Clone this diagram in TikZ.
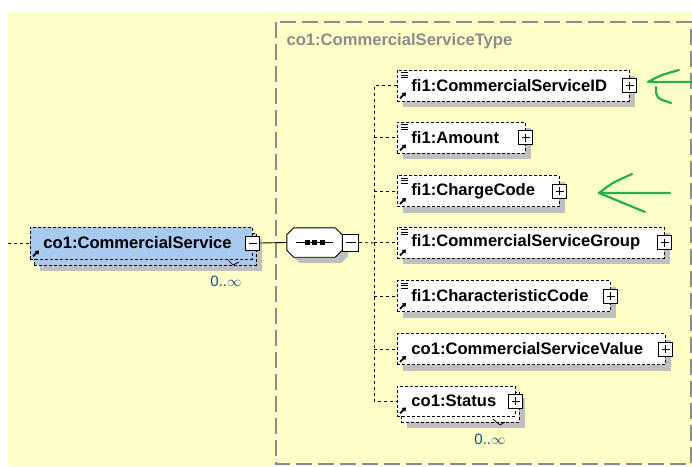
\documentclass[tikz,border=0pt]{standalone}
\usepackage{fontspec}
\setmainfont{Liberation Sans}
\usetikzlibrary{positioning,shadows,arrows.meta}

\definecolor{bgyellow}{RGB}{255,255,200}
\definecolor{elemblue}{RGB}{168,202,240}
\definecolor{shadowgrey}{RGB}{192,192,192}
\definecolor{typegrey}{RGB}{140,140,140}
\definecolor{occurblue}{RGB}{20,80,120}
\definecolor{markgreen}{RGB}{34,177,76}

\begin{document}
\begin{tikzpicture}[
    x=1pt, y=-1pt,
    font=\fontsize{16.6}{18}\selectfont,
    elem/.style={
        draw=black, line width=0.9pt, dash pattern=on 3pt off 2pt, fill=white,
        font=\fontsize{16.6}{18}\selectfont\bfseries,
        minimum height=31pt, inner xsep=0pt, inner ysep=0pt,
        align=left, anchor=west
      },
    single/.style={
        drop shadow={opacity=1, fill=shadowgrey, shadow xshift=6pt, shadow yshift=-6pt}
      },
    stacked/.style={
        drop shadow={opacity=1, fill=shadowgrey, shadow xshift=10pt, shadow yshift=-12pt},
        preaction={draw=black, fill=#1, line width=0.9pt, dash pattern=on 3pt off 2pt,
          transform canvas={xshift=4pt, yshift=-6pt}}
      },
    expander/.style={
        draw=black, solid, line width=0.9pt, fill=white,
        minimum width=14pt, minimum height=14pt, inner sep=0pt
      },
    plus/.style={expander, path picture={
        \draw ([yshift=-3pt]path picture bounding box.north) -- ([yshift=3pt]path picture bounding box.south);
        \draw ([xshift=3pt]path picture bounding box.west) -- ([xshift=-3pt]path picture bounding box.east);}
      },
    minus/.style={expander, path picture={
        \draw ([xshift=3pt]path picture bounding box.west) -- ([xshift=-3pt]path picture bounding box.east);}
      },
    seqline/.style={
        draw=black, line width=0.9pt, fill=white,
        preaction={fill=shadowgrey, transform canvas={xshift=6pt, yshift=-6pt}}
      },
    conn/.style={draw=black, line width=0.9pt, dash pattern=on 3pt off 3pt},
    refarrow/.style={line width=1.8pt, -{Triangle[length=3.5pt, width=5pt]}},
    occur/.style={text=occurblue, inner sep=0pt, font=\fontsize{15}{16}\selectfont},
    marker/.style={draw=markgreen, line width=2.2pt, line cap=round, line join=round},
  ]
  \useasboundingbox (0,0) rectangle (692,466);
  \fill[white] (0,0) rectangle (692,466);
  \fill[bgyellow] (8,12) rectangle (692,466);

  % complex type frame
  \draw[typegrey, line width=1.1pt, dash pattern=on 16pt off 6pt] (276,22) rectangle (691,464);
  \node[anchor=west, text=typegrey, font=\fontsize{16.6}{18}\selectfont\bfseries] (typename) at (283,41) {co1:CommercialServiceType};

  % element and its sequence
  \node[elem, stacked=elemblue, fill=elemblue, text width=222pt, minimum height=32pt] (cs) at (30,243) {\hspace*{13pt}co1:CommercialService};
  \node[minus] (cs-x) at (cs.east) {};
  \node[occur] (cs-occ) at (226,281) {0..$\infty$};
  \node[inner sep=0pt, minimum width=55pt, minimum height=29pt] (seq) at (314.5,242.5) {};
  \path[seqline] ([shift={(7,0)}]seq.north west) -- ([shift={(-7,0)}]seq.north east)
    -- ([shift={(0,7)}]seq.north east) -- ([shift={(0,-7)}]seq.south east)
    -- ([shift={(-7,0)}]seq.south east) -- ([shift={(7,0)}]seq.south west)
    -- ([shift={(0,-7)}]seq.south west) -- ([shift={(0,7)}]seq.north west) -- cycle;
  \node[minus, minimum width=16pt, minimum height=17pt, anchor=west] (seq-x) at (seq.east) {};
  \draw[line width=1pt] ([xshift=9pt]seq.west) -- ([xshift=-9pt]seq.east);
  \foreach \d in {-7.5,0,7.5}
    \fill ([xshift=\d pt-2.5pt, yshift=-2.5pt]seq.center) rectangle ++(5,-5);

  % child elements
  \node[elem, single, text width=232pt] (id) at (397,85.5) {\hspace*{14pt}fi1:CommercialServiceID};
  \node[elem, single, text width=128pt] (amount) at (397,137.5) {\hspace*{14pt}fi1:Amount};
  \node[elem, single, text width=162pt] (charge) at (397,191) {\hspace*{14pt}fi1:ChargeCode};
  \node[elem, single, text width=267pt] (group) at (397,242.5) {\hspace*{14pt}fi1:CommercialServiceGroup};
  \node[elem, single, text width=213pt] (charac) at (397,296) {\hspace*{14pt}fi1:CharacteristicCode};
  \node[elem, single, text width=268pt] (value) at (397,349) {\hspace*{14pt}co1:CommercialServiceValue};
  \node[elem, stacked=white, text width=118pt, minimum height=30pt] (status) at (397,401) {\hspace*{14pt}co1:Status};
  \node[occur] (status-occ) at (490,439) {0..$\infty$};

  \foreach \n in {id,amount,charge,group,charac,value,status}
    \node[plus] (\n-x) at (\n.east) {};
  \foreach \n in {id,amount,charge,group,charac} {
    \foreach \s in {3,5.5,8}
      \draw[line width=0.8pt] ([xshift=4pt, yshift=-\s pt]\n.north west) -- ++(7,0);
  }
  \foreach \n in {cs,id,amount,charge,group,charac,value,status}
    \draw[refarrow] ([xshift=3pt, yshift=3pt]\n.south west) -- ++(6,-6);

  % occurrence ticks
  \draw[line width=0.7pt] ([shift={(2,-21)}]cs-occ.center) -- ++(5,5) -- ++(6,-3);
  \draw[line width=0.7pt] ([shift={(3,-20)}]status-occ.center) -- ++(7,6) -- ++(5,-3);

  % connectors
  \coordinate (in) at (8,243);
  \coordinate (branch) at (374,243);
  \draw[conn] (in) -- (cs.west);
  \draw[line width=0.9pt] (cs-x.east) -- (seq.west);
  \draw[conn] (seq-x.east) -- (branch);
  \draw[conn] (id.west) -| (branch) |- (status.west);
  \foreach \n in {amount,charge,group,charac,value}
    \draw[conn] (branch |- \n.west) -- (\n.west);

  % hand drawn markers
  \coordinate (mkA-tip) at (648,82);
  \coordinate (mkA-end) at (692,82);
  \coordinate (mkA-up) at (679,70);
  \coordinate (mkA-low) at (656,87);
  \coordinate (mkA-lowend) at (671,103);
  \draw[marker] (mkA-end) -- (mkA-tip) .. controls (661,75) .. (mkA-up);
  \draw[marker] (mkA-low) .. controls (656,98) .. (mkA-lowend);
  \coordinate (mkB-tip) at (599,193);
  \coordinate (mkB-end) at (670,193);
  \coordinate (mkB-up) at (632,174);
  \coordinate (mkB-low) at (645,212);
  \draw[marker] (mkB-end) -- (mkB-tip) .. controls (612,183) .. (mkB-up);
  \draw[marker] (mkB-tip) .. controls (622,203) .. (mkB-low);
\end{tikzpicture}
\end{document}
